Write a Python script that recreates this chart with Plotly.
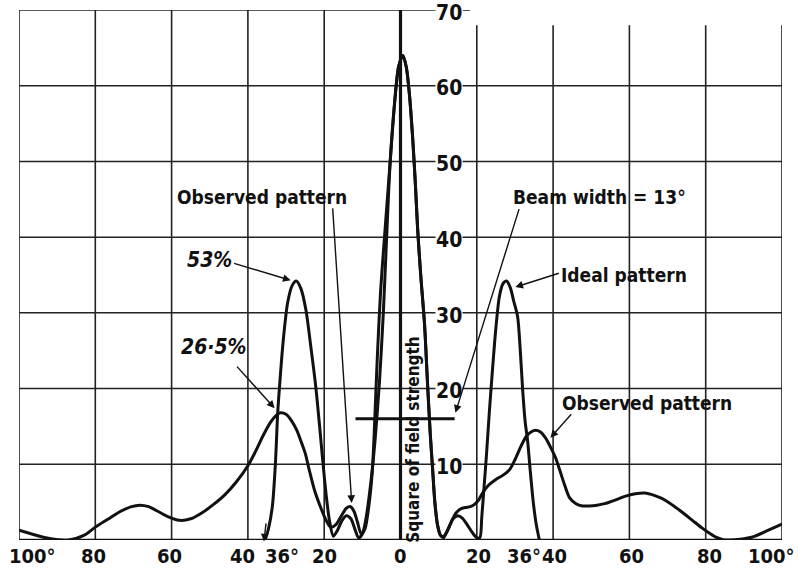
import plotly.graph_objects as go

# ---------------- data ----------------
obs_x = [-100, -96, -92, -87, -83, -80, -76.5, -73.7, -70.5, -68.4, -66, -64, -61, -58, -55, -52,
         -49, -46, -43, -40, -38, -36, -34, -32.5, -31.5, -30, -28.5, -27.2, -26.2,
         -25, -23.9, -22.5, -21, -19.5, -18.3, -17, -15.5, -14.2, -13.1, -12.2, -11.3, -10.3,
         -9.3, -8.3, -7.4, -6.9, -6.5, -6.0, -5.2, -4.2, -2.7, -1.5, -0.5, 0.6, 1.5, 2.4, 3.2,
         3.9, 4.5, 5.3, 6.3, 7.1, 7.8, 8.4, 9.0, 9.7, 10.5, 11.3, 12.3, 13.5, 14.6, 15.7, 17.0,
         18.3, 19.4, 20.5, 21.5, 23.0, 25.0, 27.0, 28.6, 30.0, 31.5, 33.0, 34.3, 35.4, 36.6, 38.0,
         39.5, 40.7, 41.7, 43.0, 44.3, 46.0, 47.7, 49.5, 51.5, 53.5, 56.4, 59.0, 61.5, 64.0, 66.5,
         68.5, 70.5, 73.5, 76.5, 79.0, 81.0, 83.0, 84.5, 86.5, 89.0, 92.3, 96.0, 100.0]
obs_y = [1.3, 0.7, 0.2, 0.0, 0.6, 1.7, 2.8, 3.7, 4.4, 4.6, 4.4, 3.9, 3.1, 2.6, 2.8, 3.6,
         4.7, 6.0, 7.7, 9.8, 11.7, 13.8, 15.6, 16.5, 16.8, 16.6, 15.7, 14.5, 13.2,
         11.5, 9.2, 6.5, 4.4, 2.6, 1.7, 2.0, 3.2, 4.2, 4.4, 3.8, 2.4, 0.8,
         1.5, 4.5, 9.0, 14.0, 19.0, 25.0, 33.0, 40.0, 50.0, 58.0, 62.5, 64.0, 62.5, 58.5, 53.0,
         47.0, 41.0, 35.0, 28.5, 20.5, 14.0, 9.5, 5.0, 2.0, 0.6, 0.5, 1.2, 2.6, 3.6, 4.1, 4.3,
         4.4, 4.7, 5.3, 6.2, 7.2, 8.0, 8.6, 9.3, 10.6, 12.3, 13.7, 14.3, 14.5, 14.3, 13.5,
         12.1, 10.8, 9.3, 7.3, 5.6, 4.8, 4.5, 4.5, 4.6, 4.8, 5.3, 5.8, 6.1, 6.2, 5.9,
         5.5, 4.9, 3.8, 2.6, 1.6, 0.9, 0.3, 0.05, 0.0, 0.1, 0.4, 1.2, 2.1]

ideal_x = [-35.5, -34.6, -33.6, -32.8, -32.2, -31.6, -30.8, -29.6, -28.4, -27.3, -26.1, -24.8,
           -23.5, -22.2, -21.2, -20.4, -19.5, -18.6, -17.6, -16.5, -15.3, -14.2, -13.0, -12.0,
           -11.0, -10.0, -9.0, -7.8, -6.7, -5.5, -4.5, -3.8, -2.7, -1.5, -0.5, 0.6, 1.5, 2.4,
           3.2, 3.9, 4.5, 5.3, 6.3, 7.1, 7.8, 8.4, 9.0, 9.7, 10.5, 11.3, 12.5, 13.8, 15.0, 16.2,
           17.5, 18.8, 20.0, 20.8, 21.3, 21.9, 22.5, 23.3, 24.1, 25.0, 25.9, 26.8, 27.8, 28.8,
           29.7, 30.7, 31.4, 32.0, 32.7, 33.3, 34.0, 34.8, 35.6, 36.4]
ideal_y = [0.0, 1.5, 4.4, 10.0, 16.7, 21.0, 26.0, 31.3, 33.6, 34.2, 33.2, 30.4,
           25.5, 20.2, 15.0, 10.6, 6.0, 2.5, 0.5, 1.3, 2.6, 3.2, 2.8, 1.5,
           0.3, 0.8, 3.0, 7.5, 13.0, 21.0, 30.0, 38.0, 50.0, 58.0, 62.5, 64.0, 62.5, 58.5,
           53.0, 47.0, 41.0, 35.0, 28.5, 20.5, 14.0, 9.5, 5.0, 2.0, 0.6, 0.3, 1.5, 2.8, 3.2, 2.9,
           2.0, 1.0, 0.3, 0.3, 3.0, 7.0, 11.0, 17.0, 22.4, 28.0, 32.1, 33.8, 34.2, 33.3,
           31.5, 29.5, 25.0, 20.0, 15.5, 13.2, 9.2, 5.0, 2.0, 0.0]

beam_x = [-11.8, 14.2]
beam_y = [16.0, 16.0]

x_grid = [-100, -80, -60, -40, -20, 0, 20, 40, 60, 80, 100]
y_grid = [10, 20, 30, 40, 50, 60]
y_label_vals = [10, 20, 30, 40, 50, 60, 70]
x_label_pos = [-80.5, -60.5, -41.4, -31, -20, 0, 20.4, 32.5, 40.4, 60.5, 81]
x_label_txt = ["80", "60", "40", "36°", "20", "0", "20", "36°", "40", "60", "80"]

FONT = "Liberation Sans Narrow, DejaVu Sans Condensed, Arial Narrow, sans-serif"
INK = "#111111"

fig = go.Figure()
fig.add_trace(go.Scatter(x=obs_x, y=obs_y, mode="lines", name="Observed pattern",
                         line=dict(color=INK, width=3, shape="spline", smoothing=0.8),
                         showlegend=False))
fig.add_trace(go.Scatter(x=ideal_x, y=ideal_y, mode="lines", name="Ideal pattern",
                         line=dict(color=INK, width=3, shape="spline", smoothing=0.8),
                         showlegend=False))
fig.add_trace(go.Scatter(x=beam_x, y=beam_y, mode="lines", name="Beam width",
                         line=dict(color=INK, width=3), showlegend=False))

shapes = []
for gx in x_grid:
    if gx == 0:
        continue
    top = 70 if gx < 0 else 68
    shapes.append(dict(type="line", xref="x", yref="y", x0=gx, x1=gx, y0=0, y1=top,
                       line=dict(color="#222", width=1.6), layer="below"))
for gy in y_grid:
    shapes.append(dict(type="line", xref="x", yref="y", x0=-100, x1=100, y0=gy, y1=gy,
                       line=dict(color="#222", width=1.5), layer="below"))
# top border (left half) and the little dash after "70"
shapes.append(dict(type="line", xref="x", yref="y", x0=-100, x1=11, y0=70, y1=70,
                   line=dict(color="#222", width=1.6), layer="below"))
shapes.append(dict(type="line", xref="x", yref="y", x0=16.4, x1=18.2, y0=70, y1=70,
                   line=dict(color="#222", width=1.6), layer="below"))
# axes
shapes.append(dict(type="line", xref="x", yref="y", x0=0, x1=0, y0=0, y1=70,
                   line=dict(color=INK, width=3.2)))
shapes.append(dict(type="line", xref="x", yref="y", x0=-100, x1=100, y0=0, y1=0,
                   line=dict(color=INK, width=2.5)))

YL = dict(family=FONT, size=21, color=INK, weight="bold")
XLF = dict(family=FONT, size=20, color=INK, weight="bold")
ann = []
for v in y_label_vals:
    ann.append(dict(x=12.8, y=v - 0.35, xref="x", yref="y", text=str(v), showarrow=False,
                    font=YL, bgcolor="white", borderpad=0))
XL_Y = -0.031  # paper units, below the x axis
for p, t in zip(x_label_pos, x_label_txt):
    ann.append(dict(x=p, y=XL_Y, xref="x", yref="paper", text=t, showarrow=False,
                    yanchor="middle", font=XLF))
ann.append(dict(x=-0.016, y=XL_Y, xref="paper", yref="paper", text="100°", showarrow=False,
                xanchor="left", yanchor="middle", font=XLF))
ann.append(dict(x=1.02, y=XL_Y, xref="paper", yref="paper", text="100°", showarrow=False,
                xanchor="right", yanchor="middle", font=XLF))

# labels
TXT = dict(family=FONT, size=19, color=INK, weight="bold")
ITX = dict(family=FONT, size=21, color=INK, weight="bold")
ann += [
    dict(x=-36.2, y=45.3, text="Observed pattern", showarrow=False, font=TXT),
    dict(x=52.2, y=45.3, text="Beam width = 13°", showarrow=False, font=TXT),
    dict(x=58.5, y=35.0, text="Ideal pattern", showarrow=False, font=TXT),
    dict(x=64.5, y=18.1, text="Observed pattern", showarrow=False, font=TXT),
    dict(x=-50.1, y=37.0, text="<i>53%</i>", showarrow=False, font=ITX),
    dict(x=-48.8, y=25.5, text="<i>26·5%</i>", showarrow=False, font=ITX),
    dict(x=3.4, y=13.3, text="Square of field strength", showarrow=False, textangle=-90,
         font=dict(family=FONT, size=17, color=INK, weight="bold")),
]
# arrows (head x,y ; tail ax,ay in data units)
arrows = [
    (-28.8, 34.3, -44.0, 36.6),
    (-33.0, 17.4, -43.2, 23.1),
    (-12.8, 4.9, -17.8, 44.0),
    (14.4, 16.8, 31.2, 43.9),
    (30.1, 33.4, 41.9, 35.3),
    (39.3, 13.5, 45.1, 16.8),
    (-35.8, -0.2, -35.2, 2.4),
]
for hx, hy, tx, ty in arrows:
    ann.append(dict(x=hx, y=hy, ax=tx, ay=ty, xref="x", yref="y", axref="x", ayref="y",
                    text="", showarrow=True, arrowhead=2, arrowsize=1.1, arrowwidth=1.4,
                    arrowcolor=INK, standoff=0, startstandoff=0))

fig.update_layout(
    width=798, height=571,
    margin=dict(l=19, r=16, t=10, b=31),
    paper_bgcolor="white", plot_bgcolor="white",
    xaxis=dict(range=[-100, 100], visible=False, fixedrange=True),
    yaxis=dict(range=[0, 70], visible=False, fixedrange=True),
    shapes=shapes, annotations=ann, showlegend=False,
)
fig.write_html("out.html", config={"displayModeBar": False},
               post_script="document.body.style.margin='0';document.body.style.overflow='hidden';")
